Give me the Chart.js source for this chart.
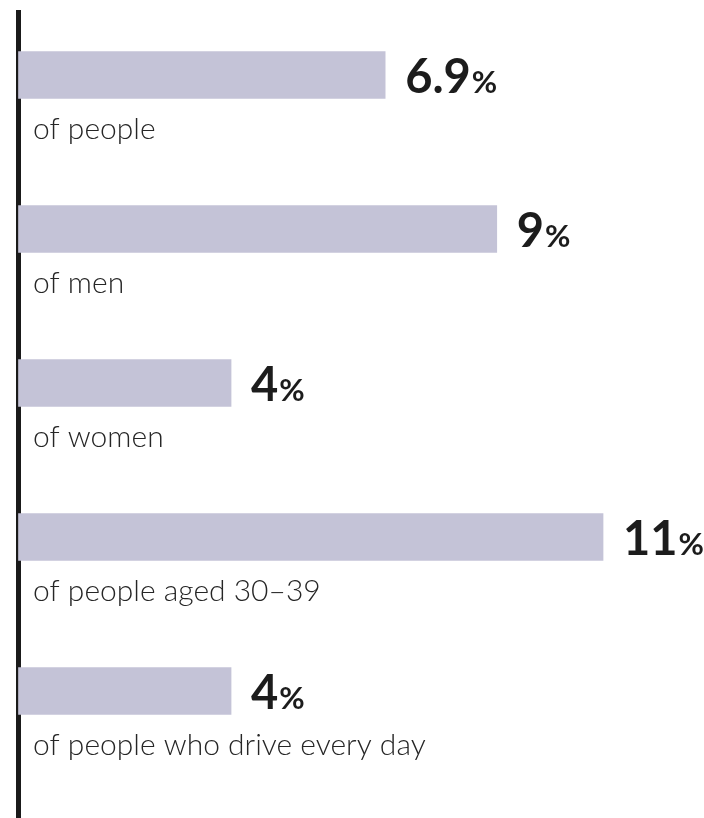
<!DOCTYPE html>
<html>
<head>
<meta charset="utf-8">
<script src="https://cdn.jsdelivr.net/npm/chart.js@4.4.1/dist/chart.umd.min.js"></script>
<style>
  html, body { margin: 0; padding: 0; background: #fff; }
  #wrap { width: 704px; height: 818px; position: relative; }
</style>
</head>
<body>
<div id="wrap"><canvas id="grafico"></canvas></div>
<script>
// ===== Datos =====
const categorias = ["of people", "of men", "of women", "of people aged 30–39", "of people who drive every day"];
const porcentajes = [6.9, 9, 4, 11, 4];

const colorBarra = "#c4c3d7";
const colorTexto = "#1c1c1c";
const fuente = "Lato, 'Open Sans', sans-serif";

// ===== Etiquetas: valor a la derecha de la barra, categoría debajo =====
const etiquetasPlugin = {
  id: "etiquetas",
  afterDatasetsDraw(chart) {
    const ctx = chart.ctx;
    const izq = chart.chartArea.left;
    chart.getDatasetMeta(0).data.forEach((bar, i) => {
      ctx.save();
      ctx.fillStyle = colorTexto;
      ctx.textBaseline = "alphabetic";
      ctx.textAlign = "left";

      // valor
      const num = String(porcentajes[i]);
      ctx.font = `bold 47px ${fuente}`;
      const xNum = bar.x + 20;
      ctx.fillText(num, xNum, bar.y + 18);
      const w = ctx.measureText(num).width;
      ctx.font = `bold 31px ${fuente}`;
      ctx.fillText("%", xNum + w + 1, bar.y + 18);

      // categoría
      ctx.fillStyle = "#262626";
      ctx.font = `300 30px ${fuente}`;
      ctx.fillText(categorias[i], izq + 14.5, bar.y + 64);
      ctx.restore();
    });
  }
};

new Chart(document.getElementById("grafico").getContext("2d"), {
  type: "bar",
  data: {
    labels: categorias,
    datasets: [{
      data: porcentajes.map((v, i) => ({ x: v, y: i })),
      backgroundColor: colorBarra,
      barThickness: 47,
      clip: false
    }]
  },
  options: {
    indexAxis: "y",
    responsive: true,
    maintainAspectRatio: false,
    animation: false,
    layout: { padding: { top: 12, left: 10.5, right: 0, bottom: 0 } },
    plugins: { legend: { display: false }, tooltip: { enabled: false } },
    scales: {
      x: { type: "linear", min: 0, max: 12.9, display: false },
      y: {
        type: "linear",
        reverse: true,
        offset: false,
        min: -0.409,
        max: 4.825,
        z: 1,
        ticks: { display: false },
        grid: { display: false },
        border: { display: true, color: "#1a1a1a", width: 5 }
      }
    }
  },
  plugins: [etiquetasPlugin]
});
</script>
</body>
</html>
